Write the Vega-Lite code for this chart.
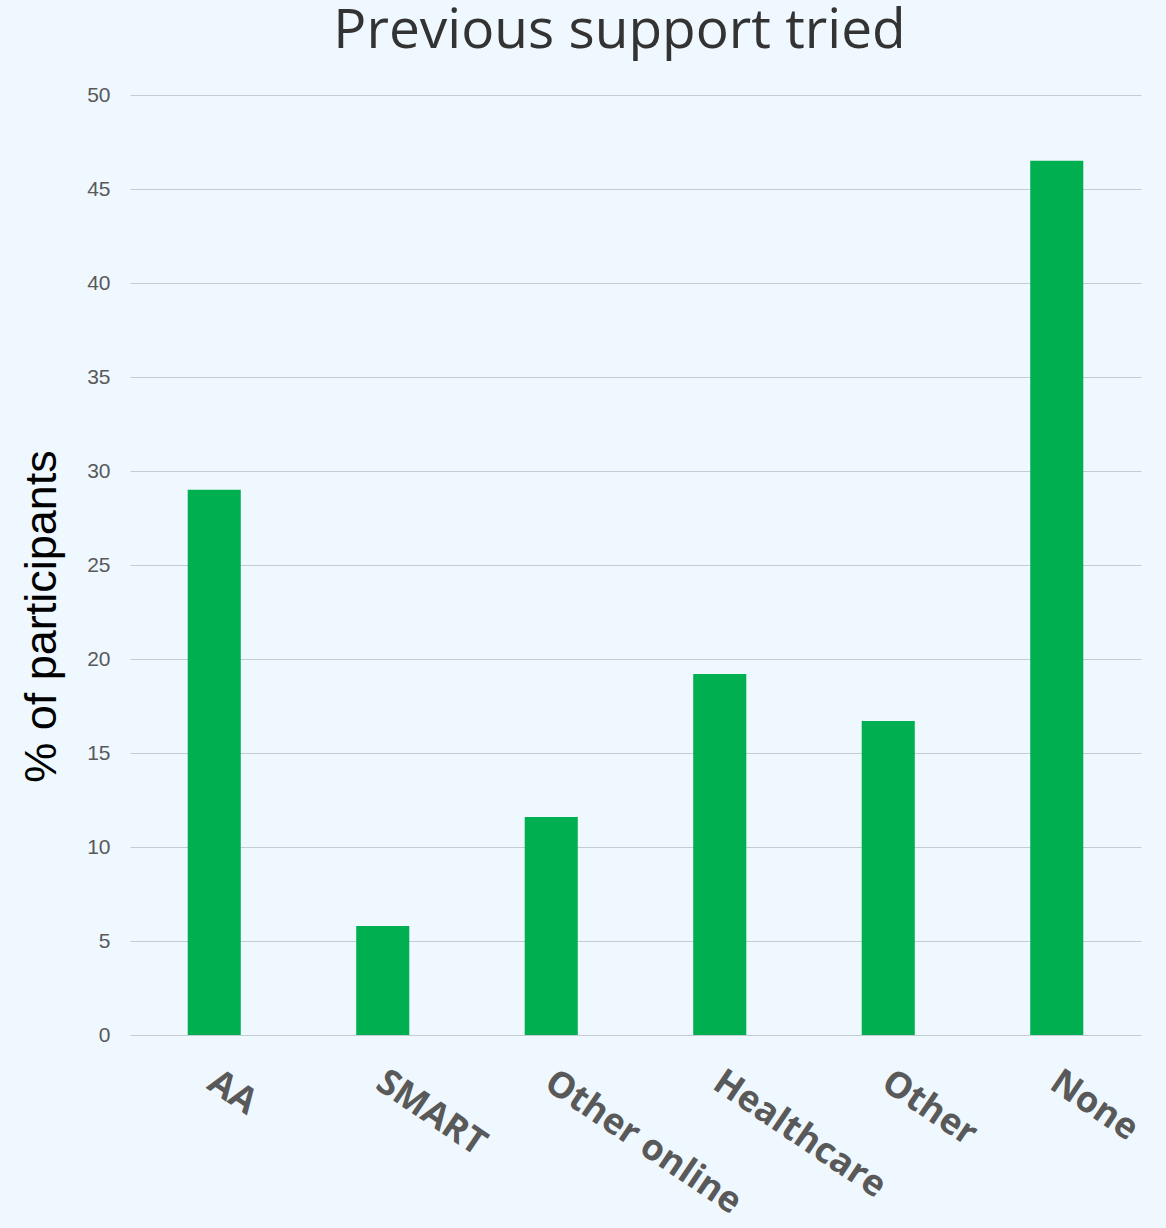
{
  "$schema": "https://vega.github.io/schema/vega-lite/v6.json",
  "autosize": {"type": "none"},
  "width": 1011,
  "height": 940,
  "padding": {"left": 130, "top": 95, "right": 25, "bottom": 193},
  "background": "#EEF8FE",
  "title": {
    "text": "Previous support tried",
    "font": "Open Sans",
    "fontSize": 55,
    "fontWeight": "normal",
    "color": "#333333",
    "anchor": "middle",
    "frame": "group",
    "baseline": "alphabetic",
    "offset": 35,
    "dy": 54,
    "dx": -16
  },
  "data": {
    "values": [
      {"support": "AA", "percent": 29.0},
      {"support": "SMART", "percent": 5.8},
      {"support": "Other online", "percent": 11.6},
      {"support": "Healthcare", "percent": 19.2},
      {"support": "Other", "percent": 16.7},
      {"support": "None", "percent": 46.5}
    ]
  },
  "mark": {"type": "bar", "color": "#00B050"},
  "encoding": {
    "x": {
      "field": "support",
      "type": "nominal",
      "sort": null,
      "scale": {"paddingInner": 0.685, "paddingOuter": 0.3425},
      "axis": {
        "title": null,
        "domain": false,
        "ticks": false,
        "labelAngle": 34,
        "labelAlign": "left",
        "labelBaseline": "top",
        "labelPadding": 29,
        "labelOffset": 7,
        "labelLimit": 0,
        "labelFont": "Open Sans",
        "labelFontWeight": "bold",
        "labelFontSize": 36,
        "labelColor": "#595959"
      }
    },
    "y": {
      "field": "percent",
      "type": "quantitative",
      "scale": {"domain": [0, 50]},
      "axis": {
        "values": [0, 5, 10, 15, 20, 25, 30, 35, 40, 45, 50],
        "domain": false,
        "ticks": false,
        "grid": true,
        "gridColor": "#C3CBD3",
        "gridWidth": 1,
        "labelFont": "Liberation Sans",
        "labelFontSize": 21,
        "labelColor": "#595959",
        "labelPadding": 20,
        "title": "% of participants",
        "titleFont": "Liberation Sans",
        "titleFontSize": 45,
        "titleFontWeight": "normal",
        "titleColor": "#000000",
        "titleAngle": 270,
        "titleAlign": "center",
        "titleBaseline": "alphabetic",
        "titleX": -75,
        "titleY": 521
      }
    }
  },
  "config": {"view": {"stroke": null}}
}
